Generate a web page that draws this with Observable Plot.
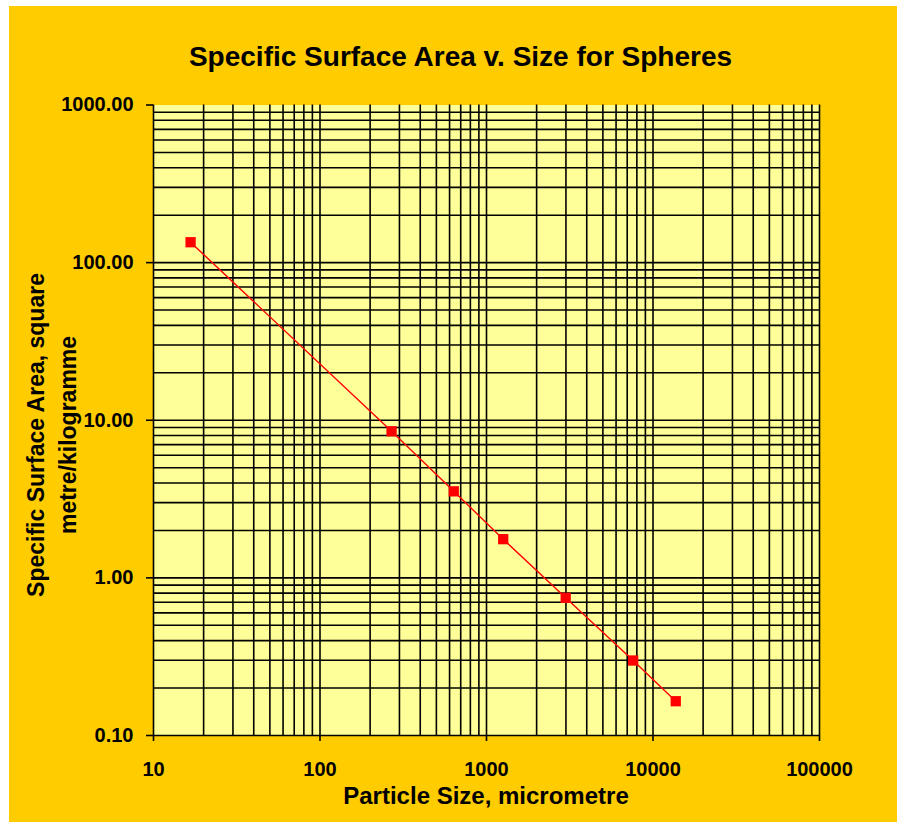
<!DOCTYPE html>
<html>
<head>
<meta charset="utf-8">
<script src="https://cdn.jsdelivr.net/npm/d3@7"></script>
<script src="https://cdn.jsdelivr.net/npm/@observablehq/plot@0.6"></script>
<style>
  html, body { margin: 0; padding: 0; background: #ffffff; }
  #wrap { position: absolute; left: 9px; top: 6px; width: 888px; height: 816px; background: #FFCC00; overflow: hidden; }
  #wrap svg { display: block; }
</style>
</head>
<body>
<div id="wrap"></div>
<script>
// Data
const particleSize = [16.7, 269, 636, 1260, 2990, 7600, 13700];      // micrometre
const surfaceArea  = [134.7, 8.51, 3.54, 1.76, 0.747, 0.299, 0.165]; // m^2/kg
const xTicks = [10, 100, 1000, 10000, 100000];
const yTicks = [0.1, 1, 10, 100, 1000];
const xDecades = [10, 100, 1000, 10000];
const yDecades = [0.1, 1, 10, 100];
const multiples = [1, 2, 3, 4, 5, 6, 7, 8, 9];

const titleText = "Specific Surface Area v. Size for Spheres";
const xLabel = "Particle Size, micrometre";
const yLabel1 = "Specific Surface Area, square";
const yLabel2 = "metre/kilogramme";

const data = particleSize.map((s, i) => ({size: s, area: surfaceArea[i]}));
const xGrid = xDecades.flatMap(d => multiples.map(m => d * m)).concat([100000]);
const yGrid = yDecades.flatMap(d => multiples.map(m => +(d * m).toPrecision(6)));

const font = "'Liberation Sans', Arial, Helvetica, sans-serif";

const chart = Plot.plot({
  width: 888,
  height: 816,
  marginLeft: 144,
  marginRight: 78,
  marginTop: 98.5,
  marginBottom: 87,
  style: {background: "transparent", fontFamily: font, fontSize: "20px", fontWeight: "bold", color: "#000"},
  x: {type: "log", domain: [10, 100000], label: null},
  y: {type: "log", domain: [0.1, 1000], label: null},
  marks: [
    Plot.frame({fill: "#FFFF99", stroke: null}),
    Plot.ruleX(xGrid, {stroke: "#000", strokeWidth: 1.6}),
    Plot.ruleY(yGrid, {stroke: "#000", strokeWidth: 1.6}),
    Plot.axisX({ticks: xTicks, tickFormat: d => String(d), tickSize: 6, tickPadding: 20, fontSize: 20, fontWeight: "bold", strokeWidth: 1.6, label: null}),
    Plot.axisY({ticks: yTicks, tickFormat: d => d3.format(".2f")(d), tickSize: 7, tickPadding: 13, fontSize: 20, fontWeight: "bold", strokeWidth: 1.6, label: null}),
    Plot.line(data, {x: "size", y: "area", stroke: "#FF0000", strokeWidth: 1.4}),
    Plot.dot(data, {x: "size", y: "area", symbol: "square", fill: "#FF0000", stroke: null, r: 5.8})
  ]
});

const svg = d3.select(chart);
svg.append("text")
  .attr("x", 451.5).attr("y", 60)
  .attr("text-anchor", "middle")
  .style("font-family", font).style("font-size", "28px").style("font-weight", "bold")
  .attr("fill", "#000")
  .text(titleText);

svg.append("text")
  .attr("x", 477).attr("y", 798)
  .attr("text-anchor", "middle")
  .style("font-family", font).style("font-size", "24px").style("font-weight", "bold")
  .attr("fill", "#000")
  .text(xLabel);

const yl = svg.append("g").attr("transform", "translate(0,429)");
yl.append("text")
  .attr("transform", "translate(35,0) rotate(-90)")
  .attr("text-anchor", "middle")
  .style("font-family", font).style("font-size", "23px").style("font-weight", "bold")
  .attr("fill", "#000")
  .text(yLabel1);
yl.append("text")
  .attr("transform", "translate(67,0) rotate(-90)")
  .attr("text-anchor", "middle")
  .style("font-family", font).style("font-size", "23px").style("font-weight", "bold")
  .attr("fill", "#000")
  .text(yLabel2);

document.getElementById("wrap").appendChild(chart);
</script>
</body>
</html>
